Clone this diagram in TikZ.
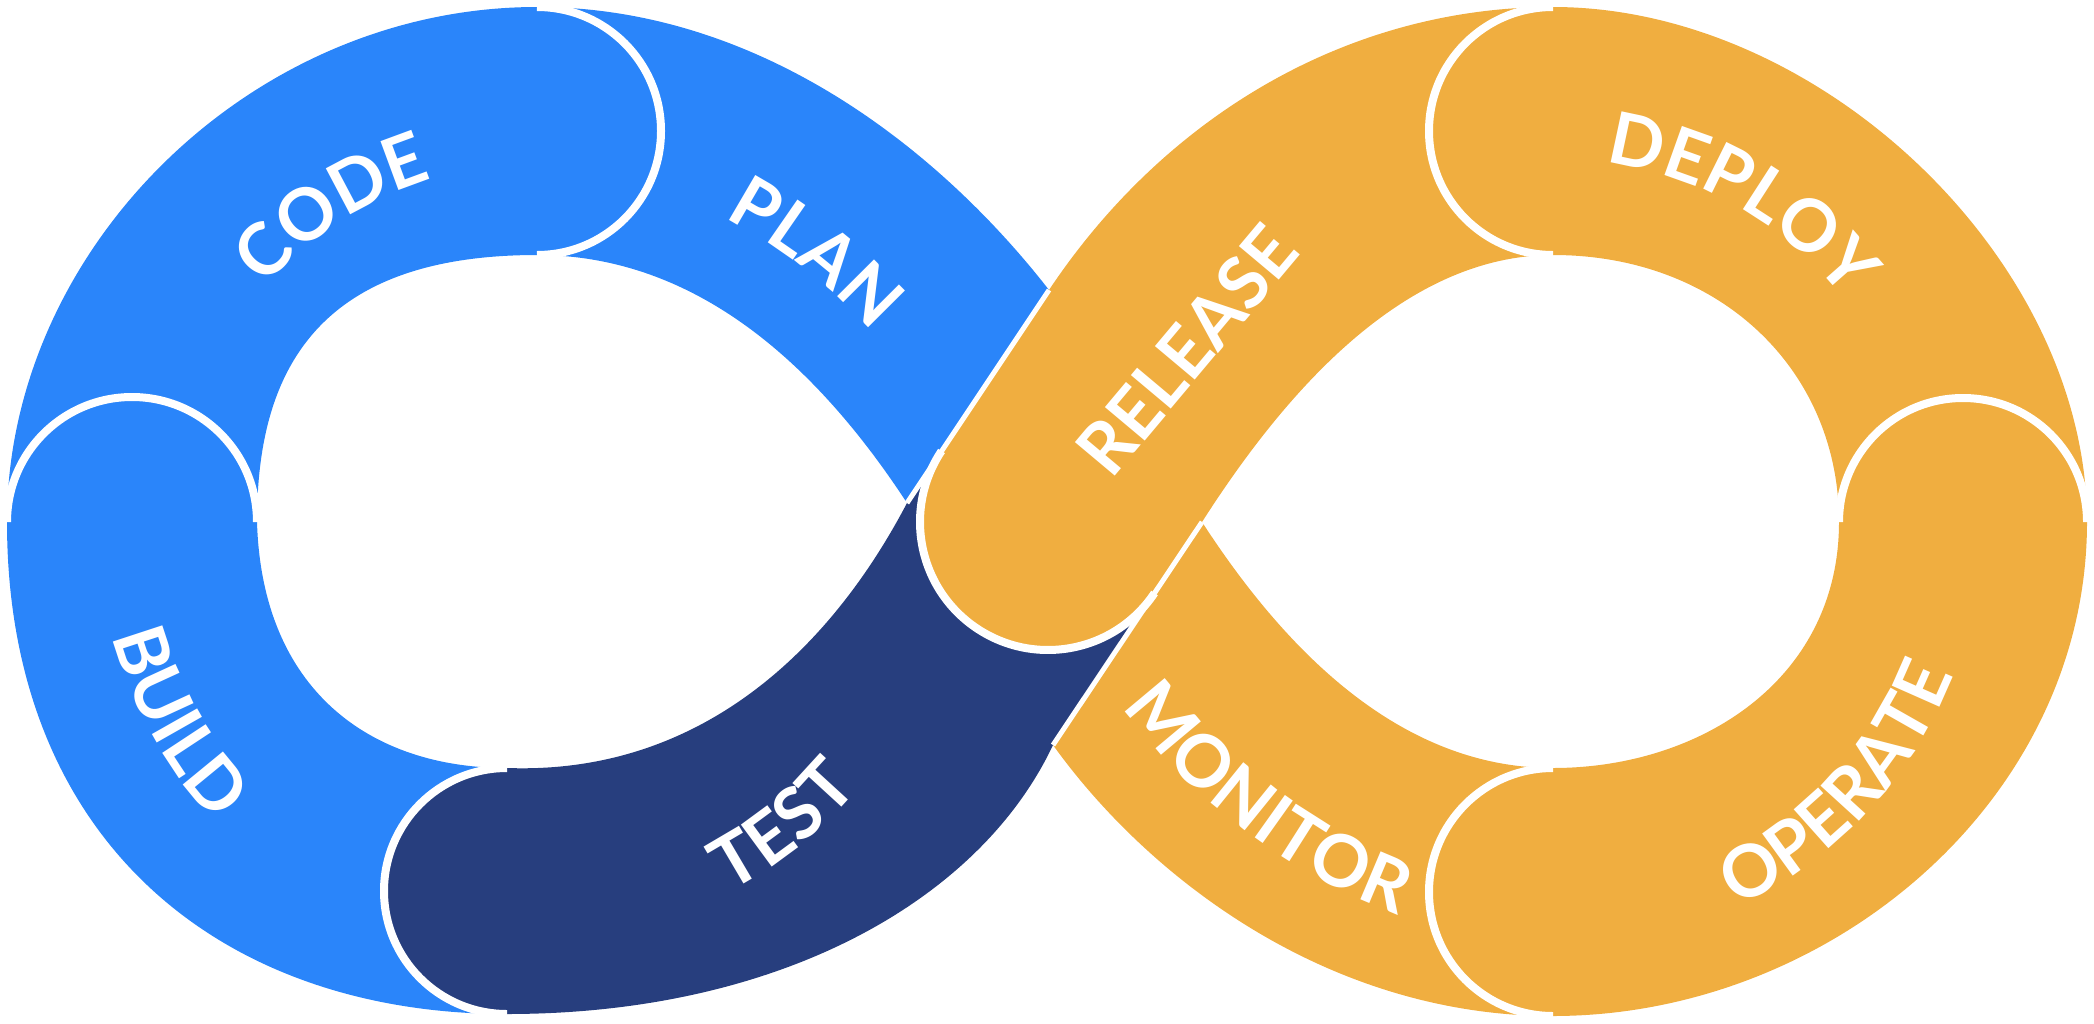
\documentclass[tikz,border=0pt]{standalone}
\usepackage{fontspec}
\usetikzlibrary{decorations.text}
\newfontfamily\lblfont{Lato}[BoldFont={Lato Bold}]
\newcommand\lblsize{\lblfont\bfseries\fontsize{36}{36}\selectfont}
\definecolor{cblue}{HTML}{2A85FA}
\definecolor{cnavy}{HTML}{273E7E}
\definecolor{corange}{HTML}{F0AE40}
\begin{document}
\begin{tikzpicture}[x=0.5pt,y=-0.5pt,
  capline/.style={draw=white,line width=4pt},
  sepline/.style={draw=white,line width=2.5pt},
  lbl/.style={text=white,font=\lblsize,inner sep=0pt,anchor=center},
  arctext/.style={decorate,decoration={text along path,text align=center,text color=white,text={|\lblsize|#1}}}]
\useasboundingbox (0,0) rectangle (2094,1023);
% PLAN
\fill[cblue] (537,7) .. controls (760,7) and (940,150) .. (1049,290) -- (907,503) .. controls (820,370) and (700,255) .. (537,255) -- cycle;
% CODE
\fill[cblue] (537,255) .. controls (318,255) and (257,370) .. (257,522) -- (7,522) .. controls (7,250) and (250,7) .. (537,7) arc[start angle=-90,end angle=90,radius=124] -- cycle;
\draw[capline] (537,7) arc[start angle=-90,end angle=90,radius=124];
% BUILD
\fill[cblue] (7,522) .. controls (7,840) and (220,1014) .. (507,1014) -- (507,768) .. controls (370,768) and (262,690) .. (257,522) arc[start angle=0,end angle=-180,radius=125] -- cycle;
\draw[capline] (257,522) arc[start angle=0,end angle=-180,radius=125];
% MONITOR
\fill[corange] (1202,522) .. controls (1285,650) and (1400,768) .. (1553,768) -- (1553,1016) .. controls (1330,1016) and (1150,880) .. (1053,745) -- cycle;
% TEST
\fill[cnavy] (507,768) .. controls (700,775) and (830,650) .. (907,503) -- (941.5,451) -- (1154.5,593) -- (1053,745) .. controls (980,900) and (780,1014) .. (507,1014) arc[start angle=90,end angle=270,radius=123] -- cycle;
\draw[capline] (507,1014) arc[start angle=90,end angle=270,radius=123];
% RELEASE
\fill[corange] (941.5,451) -- (1049,290) .. controls (1163.7,118) and (1346,7) .. (1553,7) -- (1553,255) .. controls (1400,255) and (1280,400) .. (1202,522) -- (1154.5,593) arc[start angle=33.7,end angle=213.7,radius=128] -- cycle;
\draw[capline] (1154.5,593) arc[start angle=33.7,end angle=213.7,radius=128];
\draw[sepline] (907,503) -- (1049,290);
\draw[sepline] (1053,745) -- (1202,522);
% DEPLOY
\fill[corange] (1553,255) arc[start angle=90,end angle=270,radius=124] .. controls (1820,7) and (2087,260) .. (2087,522) -- (1839,522) .. controls (1839,370) and (1720,255) .. (1553,255) -- cycle;
\draw[capline] (1553,255) arc[start angle=90,end angle=270,radius=124];
% OPERATE
\fill[corange] (2087,522) .. controls (2087,800) and (1830,1016) .. (1553,1016) arc[start angle=90,end angle=270,radius=124] .. controls (1700,768) and (1839,680) .. (1839,522) arc[start angle=180,end angle=360,radius=124] -- cycle;
\draw[capline] (1553,1016) arc[start angle=90,end angle=270,radius=124];
\draw[capline] (1839,522) arc[start angle=180,end angle=360,radius=124];
% labels
\path[arctext=CODE] ([shift={(-163:359)}]537,522) arc[start angle=-163,end angle=-83,radius=359];
\path[arctext=PLAN] ([shift={(-82:530)}]477,686) arc[start angle=-82,end angle=-22,radius=530];
\node[lbl,rotate=50] (release) at (1187,350) {RELEASE};
\path[arctext=DEPLOY] ([shift={(-100:363)}]1557,522) arc[start angle=-100,end angle=-20,radius=363];
\path[arctext=OPERATE] ([shift={(83:425)}]1557,522) arc[start angle=83,end angle=3,radius=425];
\path[arctext=MONITOR] ([shift={(157:618)}]1617,337) arc[start angle=157,end angle=97,radius=618];
\path[arctext=TEST] ([shift={(81:417)}]537,522) arc[start angle=81,end angle=21,radius=417];
\path[arctext=BUILD] ([shift={(186:440)}]537,522) arc[start angle=186,end angle=116,radius=440];
\end{tikzpicture}
\end{document}
